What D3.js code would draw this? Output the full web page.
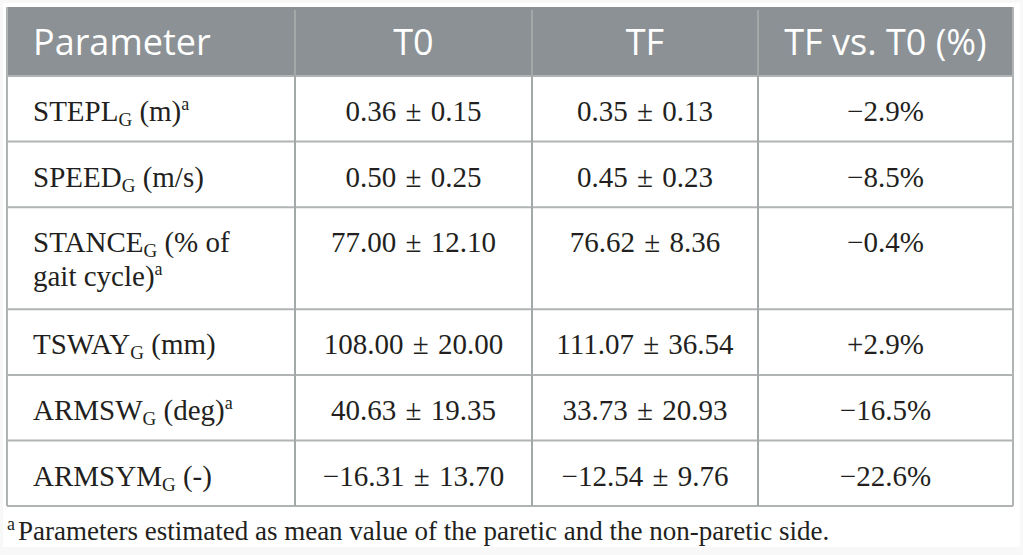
<!DOCTYPE html>
<html>
<head>
<meta charset="utf-8">
<script src="https://cdn.jsdelivr.net/npm/d3@7"></script>
<style>
  html, body { margin: 0; padding: 0; background: #f8f8f8; }
  svg { display: block; }
</style>
</head>
<body>
<div id="table"></div>
<script>
// table content
var headers = ["Parameter", "T0", "TF", "TF vs. T0 (%)"];
var paramNames = ["STEPL", "SPEED", "STANCE", "TSWAY", "ARMSW", "ARMSYM"];
var paramUnits = [["(m)"], ["(m/s)"], ["(% of", "gait cycle)"], ["(mm)"], ["(deg)"], ["(-)"]];
var paramNote = [true, false, true, false, true, false];
var t0Values = ["0.36 \u00b1 0.15", "0.50 \u00b1 0.25", "77.00 \u00b1 12.10", "108.00 \u00b1 20.00", "40.63 \u00b1 19.35", "\u221216.31 \u00b1 13.70"];
var tfValues = ["0.35 \u00b1 0.13", "0.45 \u00b1 0.23", "76.62 \u00b1 8.36", "111.07 \u00b1 36.54", "33.73 \u00b1 20.93", "\u221212.54 \u00b1 9.76"];
var changes = ["\u22122.9%", "\u22128.5%", "\u22120.4%", "+2.9%", "\u221216.5%", "\u221222.6%"];
var footnote = "Parameters estimated as mean value of the paretic and the non-paretic side.";

var width = 1023;
var height = 555;

var colEdges = [7, 295, 532, 758, 1013];
var headerTop = 7;
var headerH = 69;
var rowBase = 65.6;
var lineExtra = 36.5;

var headerColor = "#8b9194";
var lineColor = "#b0b4b4";
var textColor = "#231f20";
var serif = "'Liberation Serif', 'Times New Roman', serif";
var sans = "'Open Sans', 'Noto Sans', sans-serif";

var svg = d3.select("#table").append("svg")
    .attr("width", width)
    .attr("height", height);

// white sheet behind the table and footnote
svg.append("rect")
    .attr("x", 3).attr("y", 3)
    .attr("width", width - 6).attr("height", 544)
    .attr("fill", "#ffffff");

// row boundaries
var rowTops = [];
var y = headerTop + headerH;
paramNames.forEach(function(d, i) {
  rowTops.push(y);
  y += rowBase + lineExtra * (paramUnits[i].length - 1);
});
var tableBottom = y;

// header
svg.append("rect")
    .attr("x", colEdges[0]).attr("y", headerTop)
    .attr("width", colEdges[4] - colEdges[0]).attr("height", headerH)
    .attr("fill", headerColor);

svg.selectAll(".head")
    .data(headers)
    .enter()
    .append("text")
    .attr("class", "head")
    .attr("x", function(d, i) { return i === 0 ? colEdges[0] + 26 : (colEdges[i] + colEdges[i + 1]) / 2; })
    .attr("y", headerTop + 48)
    .attr("text-anchor", function(d, i) { return i === 0 ? "start" : "middle"; })
    .attr("font-family", sans)
    .attr("font-size", "36px")
    .attr("fill", "#ffffff")
    .text(function(d) { return d; });

// grid lines
svg.selectAll(".hline")
    .data(rowTops.concat([tableBottom]))
    .enter()
    .append("line")
    .attr("x1", colEdges[0]).attr("x2", colEdges[4])
    .attr("y1", function(d) { return d; }).attr("y2", function(d) { return d; })
    .attr("stroke", lineColor)
    .attr("stroke-width", 2);

svg.selectAll(".vline")
    .data(colEdges)
    .enter()
    .append("line")
    .attr("x1", function(d) { return d; }).attr("x2", function(d) { return d; })
    .attr("y1", function(d, i) { return (i === 0 || i === 4) ? headerTop : headerTop + 3; })
    .attr("y2", tableBottom)
    .attr("stroke", function(d, i) { return (i === 0 || i === 4) ? lineColor : "#a3a8a9"; })
    .attr("stroke-width", 2);

// parameter column
var rows = svg.selectAll(".row")
    .data(paramNames)
    .enter()
    .append("g")
    .attr("class", "row")
    .attr("transform", function(d, i) { return "translate(0," + rowTops[i] + ")"; });

rows.each(function(name, i) {
  var g = d3.select(this);
  var units = paramUnits[i];
  units.forEach(function(u, k) {
    var t = g.append("text")
        .attr("x", colEdges[0] + 26)
        .attr("y", 45 + k * 34)
        .attr("font-family", serif)
        .attr("font-size", "29px")
        .attr("fill", textColor);
    if (k === 0) {
      t.append("tspan").text(name);
      t.append("tspan").attr("font-size", "19px").attr("dy", 5).text("G");
      t.append("tspan").attr("dy", -5).text(" " + u);
    } else {
      t.append("tspan").text(u);
    }
    if (k === units.length - 1 && paramNote[i]) {
      t.append("tspan").attr("font-size", "18px").attr("dy", -11).text("a");
    }
  });
});

// value columns
var valueCols = [t0Values, tfValues, changes];
valueCols.forEach(function(vals, c) {
  rows.append("text")
      .attr("x", (colEdges[c + 1] + colEdges[c + 2]) / 2)
      .attr("y", 45)
      .attr("text-anchor", "middle")
      .attr("font-family", serif)
      .attr("font-size", "29px")
      .attr("word-spacing", "2px")
      .attr("fill", textColor)
      .text(function(d, i) { return vals[i]; });
});

// footnote
var note = svg.append("text")
    .attr("x", colEdges[0])
    .attr("y", tableBottom + 34)
    .attr("font-family", serif)
    .attr("font-size", "27px")
    .attr("fill", textColor);
note.append("tspan").attr("font-size", "18px").attr("dy", -10).text("a");
note.append("tspan").attr("dx", 3).attr("dy", 10).text(footnote);
</script>
</body>
</html>
